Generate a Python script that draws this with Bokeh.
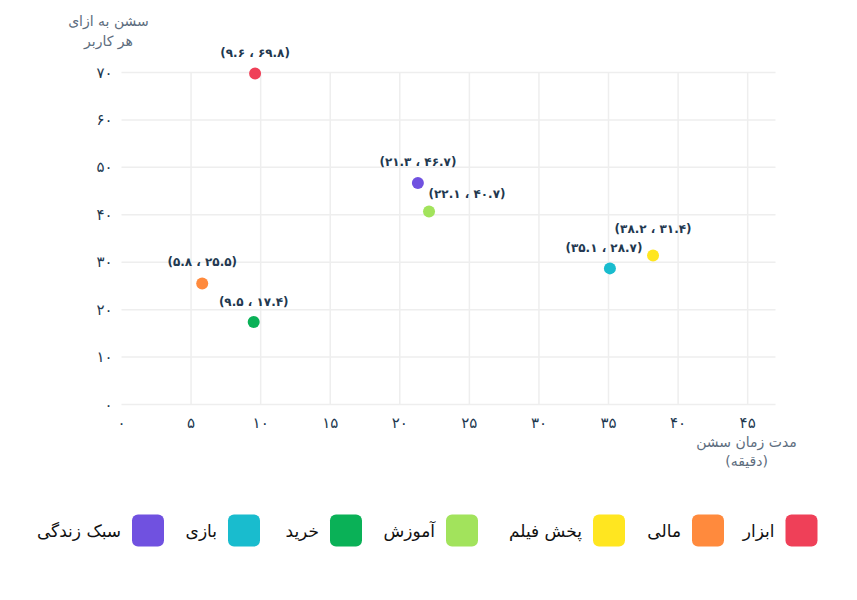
from bokeh.plotting import figure
from bokeh.models import Range1d, FixedTicker, Label, ColumnDataSource
from bokeh.embed import file_html
from bokeh.resources import INLINE
from bokeh.core.properties import value

# ---- data ----
categories = ["ابزار", "مالی", "پخش فیلم", "آموزش", "خرید", "بازی", "سبک زندگی"]
session_minutes = [9.6, 5.8, 38.2, 22.1, 9.5, 35.1, 21.3]
sessions_per_user = [69.8, 25.5, 31.4, 40.7, 17.4, 28.7, 46.7]
colors = ["#EF4058", "#FF8A3D", "#FFE620", "#A2E35C", "#0AB157", "#19BCCE", "#7051E0"]
x_ticks = [0, 5, 10, 15, 20, 25, 30, 35, 40, 45]
y_ticks = [0, 10, 20, 30, 40, 50, 60, 70]
x_max = 47
y_max = 70
x_title = ["مدت زمان سشن", "(دقیقه)"]
y_title = ["سشن به ازای", "هر کاربر"]

FONT = "DejaVu Sans"
FA = str.maketrans("0123456789", "۰۱۲۳۴۵۶۷۸۹")


def fa(s):
    return str(s).translate(FA)


# ---- layout (canvas pixels) ----
W, H = 849, 596
X0_PX, X1_PX = 121, 775      # canvas x of x=0 and x=x_max
Y0_PX, Y1_PX = 404, 72       # canvas y of y=0 and y=y_max
kx = (X1_PX - X0_PX) / x_max
ky = (Y0_PX - Y1_PX) / y_max
x_start = -X0_PX / kx
y_start = -(H - Y0_PX) / ky


def dx(px):
    return x_start + px / kx


def dy(py):
    return y_start + (H - py) / ky


p = figure(output_backend="svg", toolbar_location=None, width=W, height=H,
           min_border=0,
           x_range=Range1d(x_start, x_start + W / kx),
           y_range=Range1d(y_start, y_start + H / ky))
p.outline_line_color = None
p.background_fill_color = "white"
p.border_fill_color = "white"
p.grid.visible = False

for ax in (p.xaxis[0], p.yaxis[0]):
    ax.fixed_location = 0
    ax.axis_line_color = None
    ax.major_tick_line_color = None
    ax.minor_tick_line_color = None
    ax.major_label_text_font = FONT
    ax.major_label_text_font_size = "15px"
    ax.major_label_text_color = "#22384f"

p.xaxis.ticker = FixedTicker(ticks=x_ticks)
p.yaxis.ticker = FixedTicker(ticks=y_ticks)
p.xaxis.major_label_overrides = {t: fa(t) for t in x_ticks}
p.yaxis.major_label_overrides = {t: fa(t) for t in y_ticks}
p.xaxis.major_label_standoff = 3
p.yaxis.major_label_standoff = 3

# grid lines (bounded to the plot area)
vx = [t for t in x_ticks if t > 0]
p.segment(x0=vx, y0=[0] * len(vx), x1=vx, y1=[y_max] * len(vx),
          line_color="#eeeeee", line_width=1.5)
p.segment(x0=[0] * len(y_ticks), y0=y_ticks, x1=[x_max] * len(y_ticks), y1=y_ticks,
          line_color="#eeeeee", line_width=1.5)

src = ColumnDataSource(dict(x=session_minutes, y=sessions_per_user, c=colors))
p.scatter("x", "y", source=src, size=12, color="c", line_color=None)

# point labels (offsets in px)
label_dx = [0, 0, 0, 38, 0, -6, 0]
label_dy = [20, 22, 27, 17, 20, 20, 21]
for xv, yv, ox, oy in zip(session_minutes, sessions_per_user, label_dx, label_dy):
    p.add_layout(Label(x=xv, y=yv, x_offset=ox, y_offset=oy,
                       text="(" + fa(xv) + " ، " + fa(yv) + ")",
                       text_font=FONT, text_font_size="12px", text_font_style="bold",
                       text_color="#22384f", text_align="center", text_baseline="middle"))

# axis titles
for i, t in enumerate(y_title):
    p.add_layout(Label(x=dx(108), y=dy(20 + 20 * i), text=t, text_font=FONT,
                       text_font_size="14px", text_color="#5d6d7e",
                       text_align="center", text_baseline="middle"))
for i, t in enumerate(x_title):
    p.add_layout(Label(x=dx(746), y=dy(441 + 19 * i), text=t, text_font=FONT,
                       text_font_size="14px", text_color="#5d6d7e",
                       text_align="center", text_baseline="middle"))

# ---- legend (right-to-left) ----
legend_cx = [801, 707.5, 608.5, 461.5, 345.5, 243.5, 147.5]
legend_cy = 530
lsrc = ColumnDataSource(dict(x=[dx(c) for c in legend_cx],
                             y=[dy(legend_cy)] * len(categories),
                             tx=[dx(c - 27) for c in legend_cx],
                             c=colors, t=categories))
p.rect("x", "y", width=32, height=32, width_units="screen", height_units="screen",
       source=lsrc, fill_color="c", line_color=None, border_radius=6)
p.text("tx", "y", text="t", source=lsrc, text_font=value(FONT), text_font_size="17px",
       text_color="#111111", text_align="right", text_baseline="middle")

open("out.html", "w").write(file_html(p, INLINE))
